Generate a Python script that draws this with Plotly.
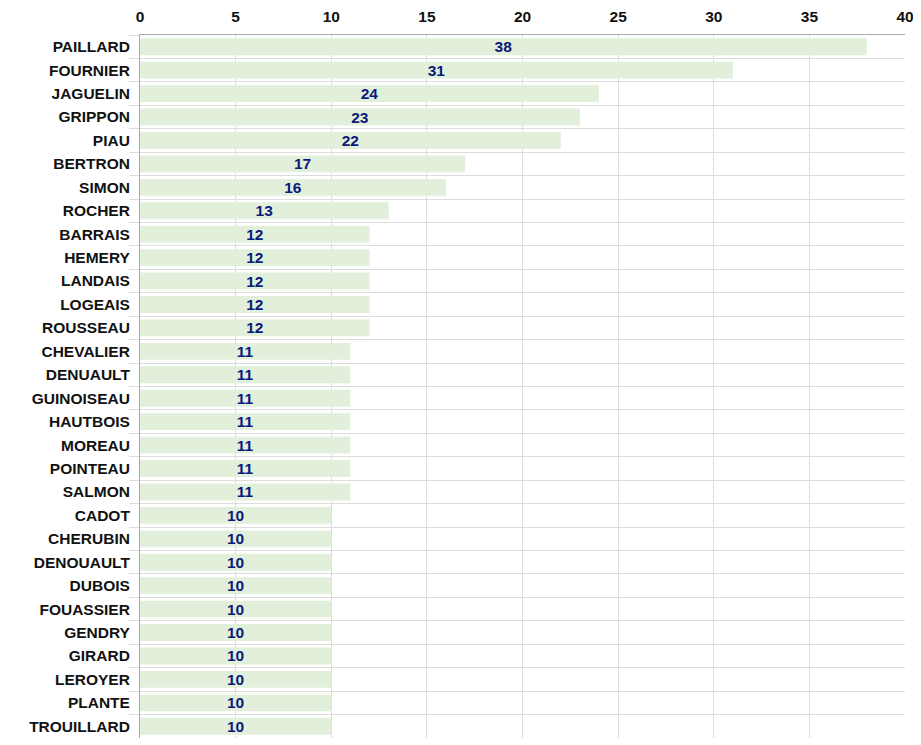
import plotly.graph_objects as go

names = ["PAILLARD", "FOURNIER", "JAGUELIN", "GRIPPON", "PIAU", "BERTRON", "SIMON",
         "ROCHER", "BARRAIS", "HEMERY", "LANDAIS", "LOGEAIS", "ROUSSEAU", "CHEVALIER",
         "DENUAULT", "GUINOISEAU", "HAUTBOIS", "MOREAU", "POINTEAU", "SALMON", "CADOT",
         "CHERUBIN", "DENOUAULT", "DUBOIS", "FOUASSIER", "GENDRY", "GIRARD", "LEROYER",
         "PLANTE", "TROUILLARD"]
counts = [38, 31, 24, 23, 22, 17, 16, 13, 12, 12, 12, 12, 12, 11, 11, 11, 11, 11, 11, 11,
          10, 10, 10, 10, 10, 10, 10, 10, 10, 10]
x_ticks = [0, 5, 10, 15, 20, 25, 30, 35, 40]

FONT = "Liberation Sans, Arial"

fig = go.Figure(go.Bar(
    x=counts, y=names, orientation="h",
    marker=dict(color="#E2EFDA", line=dict(width=0)),
    text=[str(c) for c in counts],
    textposition="inside", insidetextanchor="middle", textangle=0,
    textfont=dict(family=FONT, size=15.5, color="#0B1A7A", weight="bold"),
    constraintext="none",
    hoverinfo="skip",
))

fig.update_layout(
    width=913, height=737,
    margin=dict(l=132, r=16, t=27, b=7, autoexpand=False),
    paper_bgcolor="white", plot_bgcolor="white",
    bargap=0.28,
    showlegend=False,
    font=dict(family=FONT, size=15.5, color="#111111"),
    xaxis=dict(
        side="top", range=[0, 40], tickvals=x_ticks, ticktext=[str(t) for t in x_ticks],
        showgrid=True, gridcolor="#DDDDDD", gridwidth=1,
        zeroline=False, showline=True, linecolor="#AAAAAA", linewidth=1,
        ticks="", ticklabelstandoff=6,
        tickfont=dict(family=FONT, size=15.5, weight="bold", color="#111111"),
        fixedrange=True, automargin=False,
    ),
    yaxis=dict(
        autorange="reversed", type="category",
        showgrid=True, gridcolor="#DDDDDD", gridwidth=1, tickson="boundaries",
        ticks="outside", ticklen=10, tickwidth=1, tickcolor="#DDDDDD",
        showline=True, linecolor="#AAAAAA", linewidth=1,
        tickfont=dict(family=FONT, size=15.5, weight="bold", color="#111111"),
        ticklabelstandoff=6,
        fixedrange=True, automargin=False,
    ),
)

fig.write_html("out.html")
